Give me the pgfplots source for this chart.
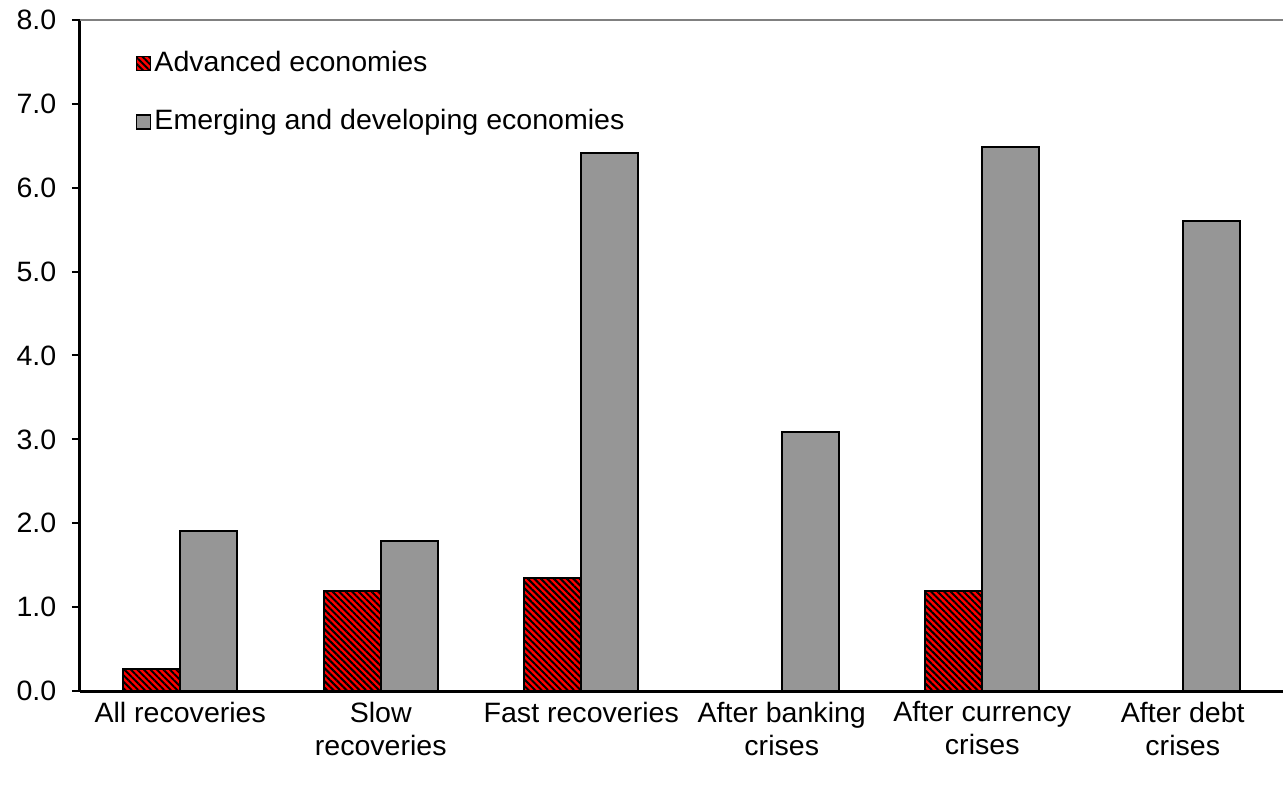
\documentclass[border=0pt]{standalone}
\usepackage{fontspec}
\setmainfont{Liberation Sans}[FakeStretch=1.02]
\usepackage{pgfplots}
\pgfplotsset{compat=1.18}
\usetikzlibrary{patterns.meta}

\definecolor{barred}{RGB}{255,0,0}
\definecolor{bargray}{RGB}{150,150,150}

\begin{document}
\fontsize{14bp}{16.5bp}\selectfont
\begin{tikzpicture}
\path[use as bounding box] (-40bp,-47.5bp) rectangle (601.5bp,345.5bp);
\begin{axis}[
  at={(0,0)}, anchor=south west,
  scale only axis, width=601.5bp, height=335.5bp,
  ybar=0pt, bar width=0.285,
  xmin=-0.5, xmax=5.5, ymin=0, ymax=8,
  axis x line*=bottom, axis y line*=left,
  axis line style={black, line width=1.5bp},
  xtick={0,...,5},
  xticklabels={All recoveries, Slow\\recoveries, Fast recoveries, After banking\\crises, After currency\\crises, After debt\\crises},
  xticklabel style={align=center, font=\fontsize{14bp}{16.5bp}\selectfont, yshift=3.5bp},
  x tick style={draw=none},
  extra x ticks={-0.5,0.5,...,5.5},
  extra x tick labels={},
  extra x tick style={tick style={draw=black, line width=1bp}, major tick length=4bp, tick align=outside},
  ytick={0,1,...,8},
  y tick style={black, line width=1bp},
  major tick length=4bp, tick align=outside,
  /pgf/number format/fixed,
  /pgf/number format/fixed zerofill,
  /pgf/number format/precision=1,
  /pgf/number format/assume math mode=true,
  yticklabel style={font=\fontsize{14bp}{16.5bp}\selectfont, xshift=-3bp},
  legend style={at={(0.041,0.966)}, anchor=north west, draw=none, fill=none,
    row sep=13bp, font=\fontsize{14bp}{16.5bp}\selectfont,
    nodes={inner xsep=1.5bp}},
  legend cell align=left,
  legend image code/.code={\draw[#1, line width=0.9bp] (0bp,-3.5bp) rectangle (7bp,3.5bp);},
]
\addplot[fill=barred, draw=black, line width=1bp,
  postaction={pattern={Lines[angle=-45, distance=2.3bp, line width=1bp]}, pattern color=black}]
  coordinates {(0,0.26) (1,1.19) (2,1.35) (4,1.19)};
\addlegendentry{Advanced economies}
\addplot[fill=bargray, draw=black, line width=1bp]
  coordinates {(0,1.91) (1,1.79) (2,6.41) (3,3.09) (4,6.48) (5,5.60)};
\addlegendentry{Emerging and developing economies}
\draw[gray, line width=1bp] (rel axis cs:0,1) -- (rel axis cs:1,1);
\end{axis}
\end{tikzpicture}
\end{document}
